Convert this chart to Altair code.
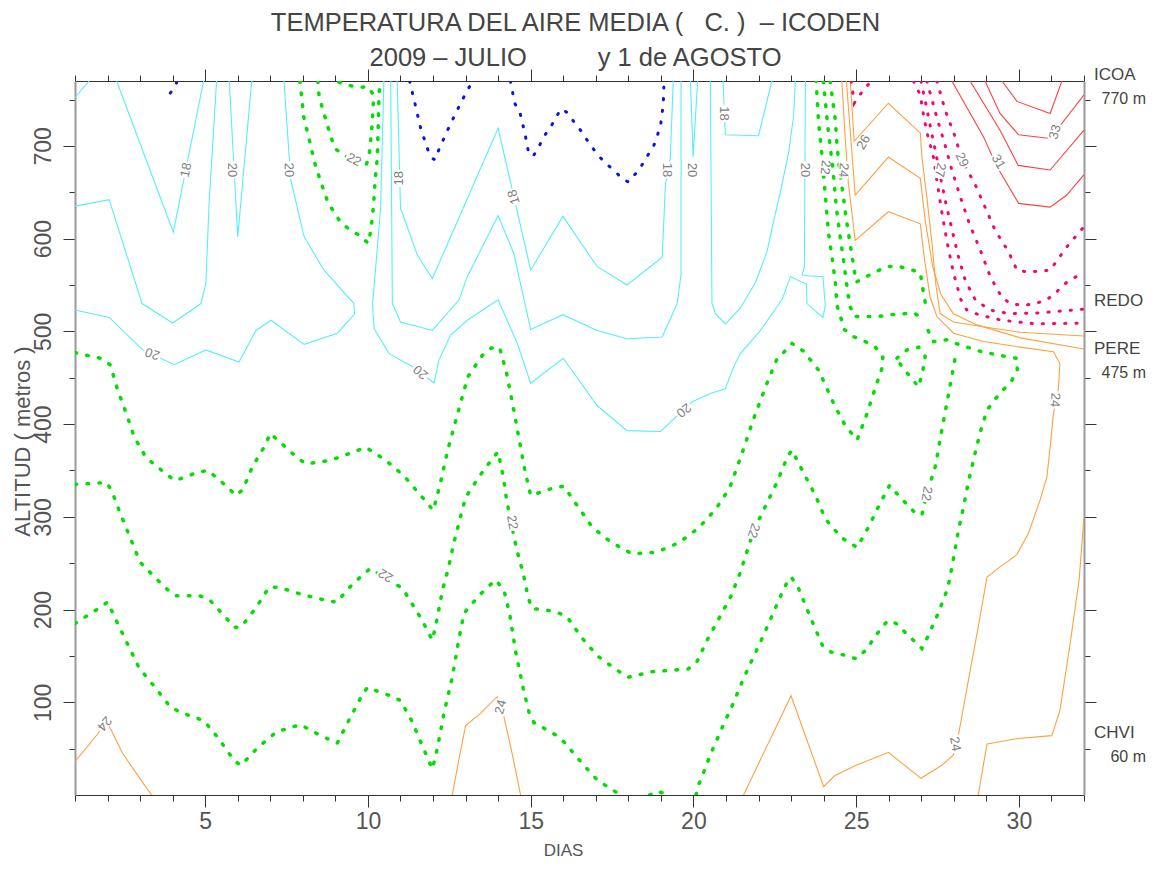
import altair as alt
import pandas as pd

FONT = "Liberation Sans"

# ---------------- titles ----------------
title_line1 = "TEMPERATURA DEL AIRE MEDIA (\u00a0\u00a0\u00a0C.\u00a0)\u00a0\u00a0\u2013\u00a0ICODEN"
title_line2 = "2009\u00a0\u2013\u00a0JULIO" + "\u00a0" * 10 + "y 1 de AGOSTO"

# ---------------- contour lines: (day, altitude m) ----------------
cyan19_corner = [(1.0, 752), (1.43, 770)]
cyan18_a = [(2.28, 770), (4.02, 607), (4.95, 770)]
cyan19_b = [(1.0, 635), (2.05, 642), (3.06, 530), (4.0, 509), (4.87, 530), (5.02, 552), (5.12, 638), (5.35, 770)]
cyan20_c = [(5.74, 770), (6.0, 602), (6.43, 770)]
cyan20_d = [(7.42, 770), (7.63, 663), (8.04, 602), (8.65, 566), (9.57, 530), (9.59, 519), (9.06, 498), (8.04, 486),
            (7.02, 512), (6.56, 501), (6.04, 467), (5.02, 480), (4.05, 464), (3.08, 480), (2.05, 515), (1.0, 523)]
cyan20_e = [(10.49, 770), (10.39, 633), (10.14, 528), (10.19, 503), (10.65, 476), (11.47, 460), (12.03, 444), (12.18, 469),
            (12.54, 496), (13.05, 512), (14.0, 534), (14.59, 487), (15.0, 444), (16.0, 471), (17.04, 420), (17.96, 393),
            (18.99, 392), (19.96, 424), (20.52, 433), (20.98, 438), (21.24, 462), (21.44, 476), (22.06, 501), (22.72, 534),
            (22.98, 559), (23.47, 551), (23.49, 530), (23.98, 515), (24.05, 528), (23.98, 559), (23.49, 560), (23.34, 561),
            (23.41, 570), (23.44, 770)]
cyan19_u = [(10.70, 770), (10.75, 530), (11.0, 510), (11.98, 501), (12.80, 534), (13.05, 559), (14.0, 625), (14.48, 584),
            (15.0, 502), (15.99, 518), (17.04, 501), (17.96, 492), (19.04, 494), (19.5, 530), (19.62, 561), (19.62, 770)]
cyan18_w = [(10.90, 770), (11.0, 633), (11.52, 582), (11.98, 557), (14.0, 719), (15.0, 566), (15.99, 624), (17.04, 570),
            (17.96, 550), (19.04, 580), (19.14, 658), (19.29, 687), (19.38, 770)]
cyan20_v = [(19.91, 770), (19.99, 688), (20.13, 770)]
cyan19_v = [(20.52, 770), (20.57, 530), (20.68, 519), (20.98, 508), (21.44, 525), (21.91, 553), (22.26, 586), (22.46, 618),
            (22.67, 650), (22.93, 694), (23.08, 733), (23.13, 770)]
cyan18_u = [(20.91, 770), (20.98, 712), (22.0, 711), (22.41, 770)]

blue17_a = [(3.93, 757), (4.12, 768)]
blue17_b = [(11.28, 770), (11.47, 742), (11.62, 719), (11.84, 696), (11.96, 687), (12.06, 685), (12.18, 696), (12.46, 718),
            (12.75, 739), (13.05, 760), (13.23, 770)]
blue17_c = [(14.38, 770), (14.51, 746), (14.67, 736), (14.82, 714), (14.94, 692), (15.08, 689), (15.25, 699), (15.40, 710),
            (15.61, 720), (15.76, 730), (15.94, 740), (16.12, 736), (16.33, 726), (16.53, 717), (16.74, 706), (16.92, 697),
            (17.12, 688), (17.35, 680), (17.61, 672), (17.83, 664), (18.01, 661), (18.22, 670), (18.43, 680), (18.60, 690),
            (18.78, 700), (18.90, 712), (18.99, 722), (19.04, 735), (19.07, 746), (19.09, 757), (19.09, 770)]

green21_top = [(7.91, 770), (8.03, 731), (8.40, 677), (8.77, 639), (9.17, 617), (9.47, 609), (9.76, 603), (10.01, 595),
               (10.09, 609), (10.17, 635), (10.22, 663), (10.29, 688), (10.32, 728), (10.34, 755), (10.37, 770)]
green22_top = [(8.46, 770), (8.50, 753), (8.65, 735), (8.86, 710), (8.99, 697), (9.27, 690), (9.63, 683), (9.93, 678),
               (10.03, 688), (10.11, 715), (10.16, 742), (10.17, 755), (10.0, 764), (9.73, 763), (9.32, 766), (9.01, 770)]
green21_long = [(1.0, 477), (1.78, 471), (2.08, 464), (2.31, 437), (2.57, 412), (2.82, 386), (3.18, 364), (3.77, 347),
                (4.07, 339), (4.77, 348), (5.09, 350), (5.69, 332), (5.94, 323), (6.15, 329), (6.45, 354), (6.84, 377),
                (7.0, 390), (7.22, 383), (7.82, 364), (8.10, 357), (8.86, 361), (9.57, 370), (9.93, 375), (10.55, 361),
                (11.11, 344), (11.62, 323), (12.01, 307), (12.21, 334), (12.46, 373), (12.77, 413), (13.07, 451),
                (13.51, 474), (13.79, 482), (14.04, 483), (14.26, 455), (14.48, 415), (14.69, 375), (14.82, 350),
                (15.0, 323), (15.68, 331), (16.02, 333), (16.45, 311), (16.89, 289), (17.45, 273), (18.12, 260),
                (18.88, 262), (19.55, 272), (20.16, 288), (20.68, 308), (21.11, 331), (21.49, 368), (21.85, 406),
                (22.26, 444), (22.55, 469), (23.03, 487), (23.37, 479), (23.85, 458), (24.31, 422), (24.67, 398),
                (25.03, 383), (25.30, 408), (25.56, 436), (25.79, 460), (25.82, 472), (25.59, 483), (25.28, 489),
                (24.94, 494), (24.64, 502), (24.41, 528), (24.36, 553), (24.26, 580), (24.15, 606), (24.05, 647),
                (23.95, 689), (23.84, 728), (23.77, 770)]
green22_long = [(1.0, 335), (1.98, 337), (2.14, 327), (2.41, 302), (2.70, 277), (3.0, 251), (3.25, 242), (3.79, 223),
                (4.08, 215), (4.82, 215), (5.12, 211), (5.64, 191), (5.89, 181), (6.10, 181), (6.56, 202), (6.96, 224),
                (7.27, 224), (7.99, 216), (8.70, 210), (9.04, 208), (9.54, 228), (10.06, 244), (11.06, 223), (11.64, 190),
                (11.98, 167), (12.13, 191), (12.29, 221), (12.46, 243), (12.62, 269), (12.80, 294), (13.0, 321),
                (13.41, 343), (13.87, 365), (14.0, 370), (14.16, 343), (14.26, 318), (14.56, 266), (14.77, 239),
                (14.93, 212), (15.05, 201), (15.40, 200), (15.82, 197), (16.12, 192), (16.56, 170), (17.05, 150),
                (17.68, 134), (18.0, 127), (18.73, 133), (19.49, 135), (19.84, 136), (20.11, 144), (20.45, 169),
                (20.81, 192), (21.16, 215), (21.44, 240), (21.85, 285), (22.26, 315), (22.59, 339), (22.89, 365),
                (23.03, 372), (23.39, 347), (23.75, 323), (24.05, 298), (24.53, 278), (25.03, 267), (25.41, 291),
                (25.74, 315), (26.03, 334), (26.30, 323), (26.82, 304), (27.02, 302), (27.17, 325), (27.43, 354),
                (27.63, 393), (27.84, 433), (28.04, 471)]
green22_island = [(26.25, 471), (26.56, 480), (26.92, 483), (27.12, 473), (27.05, 458), (26.92, 440), (26.71, 449),
                  (26.40, 462), (26.25, 471)]
green22_band = [(23.99, 770), (24.15, 714), (24.29, 674), (24.39, 634), (24.49, 606), (24.6, 580), (24.7, 553),
                (24.8, 528), (24.94, 516), (25.28, 516), (25.69, 516), (26.07, 518), (26.44, 519), (26.76, 520),
                (26.95, 516)]
green23_left = [(1.0, 185), (1.67, 200), (2.0, 208), (2.31, 185), (2.64, 161), (2.97, 137), (3.46, 116), (3.93, 95),
                (4.25, 89), (4.97, 80), (5.43, 60), (5.89, 37), (6.10, 32), (6.64, 52), (7.19, 68), (7.92, 76),
                (8.55, 64), (9.06, 56), (9.42, 81), (9.78, 105), (9.98, 116), (10.68, 107), (11.0, 102), (11.36, 79),
                (11.67, 53), (11.98, 28), (12.13, 50), (12.34, 89), (12.59, 127), (12.80, 169), (12.95, 196),
                (13.41, 215), (13.92, 232), (14.18, 221), (14.36, 194), (14.54, 154), (14.77, 115), (14.95, 89),
                (15.10, 78), (15.46, 71), (15.76, 65), (16.03, 57), (16.56, 35), (17.05, 16), (17.76, 0)]
green23_tiny = [(18.65, 0), (18.9, 4), (19.25, 0)]
green23_right = [(20.08, 0), (20.16, 11), (20.31, 24), (20.45, 37), (20.60, 50), (20.90, 74), (21.21, 98), (21.52, 124),
                 (21.83, 148), (22.15, 172), (22.46, 197), (22.77, 222), (22.92, 232), (23.01, 235), (23.24, 222),
                 (23.53, 197), (23.82, 173), (23.98, 160), (24.24, 154), (24.61, 151), (25.0, 147), (25.29, 156),
                 (25.73, 178), (25.97, 188), (26.23, 185), (26.49, 176), (27.02, 158), (27.19, 170), (27.52, 196),
                 (27.77, 219), (27.87, 232), (28.01, 259), (28.14, 285), (28.30, 311), (28.45, 338), (28.63, 365),
                 (28.81, 391), (29.02, 415), (29.27, 427), (29.52, 437), (29.78, 447), (29.95, 458), (29.93, 471),
                 (29.58, 473), (28.86, 478), (28.14, 486), (27.79, 491), (27.38, 489), (27.22, 500), (27.09, 511)]
green23_hump = [(24.2, 770), (24.36, 728), (24.41, 701), (24.49, 674), (24.6, 647), (24.7, 620), (24.82, 593),
                (24.94, 566), (25.0, 553), (25.25, 558), (25.59, 564), (25.94, 570), (26.30, 570), (26.66, 567),
                (26.97, 563), (27.02, 552), (27.09, 537), (27.15, 526)]

orange24_left = [(1.0, 36), (1.70, 66), (1.95, 80), (2.10, 71), (2.46, 45), (2.97, 19), (3.35, 0)]
orange24_mid = [(12.59, 0), (12.75, 30), (13.0, 75), (13.46, 88), (13.97, 106), (14.18, 84), (14.43, 45), (14.69, 0)]
orange24_long = [(24.56, 770), (24.66, 710), (24.76, 660), (24.97, 598), (25.99, 629), (26.97, 616), (27.09, 580),
                 (27.27, 537), (27.48, 516), (27.99, 498), (28.91, 489), (30.04, 483), (31.06, 478), (31.26, 465),
                 (31.21, 437), (31.06, 411), (30.96, 375), (30.86, 343), (30.65, 318), (30.29, 282), (29.93, 259),
                 (29.42, 246), (29.02, 235), (28.75, 181), (28.45, 124), (28.16, 68), (27.98, 43), (27.63, 32),
                 (26.99, 18), (25.99, 46), (25.0, 32), (24.35, 21), (24.0, 9), (23.0, 107), (21.54, 0)]
orange25_bottom = [(28.75, 0), (29.02, 55), (29.98, 61), (31.01, 64), (31.26, 91), (31.56, 160), (31.85, 232), (32.0, 300)]
orange25_top = [(24.7, 770), (24.87, 692), (24.97, 647), (25.99, 688), (26.97, 665), (27.12, 620), (27.35, 570),
                (27.6, 540), (27.99, 519), (28.71, 507), (30.04, 493), (32.0, 481)]
orange26_top = [(24.82, 770), (24.94, 705), (25.99, 746), (26.97, 714), (27.02, 688), (27.17, 645), (27.33, 595),
                (27.45, 550), (27.58, 519), (27.99, 510), (28.91, 505), (30.04, 499), (32.0, 495)]

pink27_small = [(24.85, 770), (24.94, 746), (25.07, 753), (25.28, 763), (25.48, 770)]
pink27 = [(26.76, 770), (26.97, 755), (27.05, 737), (27.17, 715), (27.38, 687), (27.50, 658), (27.63, 629), (27.80, 595),
          (27.99, 563), (28.22, 534), (28.40, 523), (28.76, 518), (29.47, 512), (30.55, 508), (32.0, 509)]
pink28 = [(26.99, 770), (27.15, 744), (27.30, 717), (27.46, 690), (27.61, 663), (27.77, 636), (27.95, 609), (28.13, 582),
          (28.35, 555), (28.66, 534), (29.11, 523), (29.73, 519), (30.65, 520), (32.0, 524)]
pink29 = [(27.17, 770), (27.50, 728), (27.73, 701), (27.94, 674), (28.2, 645), (28.48, 616), (28.81, 588), (29.12, 559),
          (29.47, 537), (29.73, 530), (30.14, 528), (30.5, 530), (30.86, 534), (31.17, 543), (31.47, 553), (32.0, 564)]
pink30 = [(27.48, 770), (27.73, 739), (28.04, 710), (28.25, 685), (28.66, 658), (28.96, 634), (29.27, 609), (29.68, 586),
          (29.94, 566), (30.29, 564), (30.96, 566), (31.47, 591), (32.0, 613)]

red31 = [(27.94, 770), (28.91, 710), (29.32, 678), (29.99, 638), (30.96, 634), (31.47, 647), (32.0, 669)]
red32 = [(28.5, 770), (29.42, 717), (29.98, 679), (30.96, 674), (32.0, 717)]
red33 = [(28.96, 770), (29.42, 735), (29.99, 712), (30.96, 708), (32.0, 755)]
red34 = [(29.48, 770), (29.94, 748), (30.96, 735), (31.32, 770)]

LINES = [
    ("cyan", cyan19_corner), ("cyan", cyan18_a), ("cyan", cyan19_b), ("cyan", cyan20_c), ("cyan", cyan20_d),
    ("cyan", cyan20_e), ("cyan", cyan19_u), ("cyan", cyan18_w), ("cyan", cyan20_v), ("cyan", cyan19_v),
    ("cyan", cyan18_u),
    ("blue", blue17_a), ("blue", blue17_b), ("blue", blue17_c),
    ("green", green21_top), ("green", green22_top), ("green", green21_long), ("green", green22_long),
    ("green", green22_island), ("green", green22_band), ("green", green23_left), ("green", green23_tiny),
    ("green", green23_right), ("green", green23_hump),
    ("orange", orange24_left), ("orange", orange24_mid), ("orange", orange24_long), ("orange", orange25_bottom),
    ("orange", orange25_top), ("orange", orange26_top),
    ("pink", pink27_small), ("pink", pink27), ("pink", pink28), ("pink", pink29), ("pink", pink30),
    ("red", red31), ("red", red32), ("red", red33), ("red", red34),
]

# contour labels: text, day, altitude, angle
label_text = ["18", "20", "20", "22", "18", "18", "18", "20", "18", "20", "22", "24", "26", "27", "29", "31", "33",
              "20", "20", "20", "22", "22", "22", "22", "24", "24", "24", "24"]
label_day = [4.41, 5.82, 7.57, 9.57, 10.94, 14.48, 19.19, 19.96, 20.93, 23.44, 24.05, 24.61, 25.23, 27.58, 28.25,
             29.37, 31.11, 3.38, 11.62, 19.70, 10.55, 14.43, 21.85, 27.17, 1.90, 14.08, 31.11, 28.04]
label_alt = [674, 674, 674, 685, 665, 645, 674, 674, 735, 674, 677, 674, 704, 674, 685, 683, 715, 476, 456, 415, 237,
             294, 285, 325, 77, 95, 426, 55]
label_ang = [282, 90, 87, 28, 270, 253, 90, 90, 90, 90, 95, 95, 300, 100, 65, 60, 285, 200, 220, 140, 210, 80, 110,
             100, 130, 285, 93, 80]

# stations on the right-hand axis
station_name = ["ICOA", "REDO", "PERE", "CHVI"]
station_alt = [770, 526, 475, 60]
station_height_text = ["770 m", "", "475 m", "60 m"]

# ---------------- tables ----------------
rows = []
for lid, (grp, pts) in enumerate(LINES):
    for k, (d, a) in enumerate(pts):
        rows.append({"line": lid, "grp": grp, "day": d, "alt": a, "k": k})
lines_df = pd.DataFrame(rows)
labels_df = pd.DataFrame({"txt": label_text, "day": label_day, "alt": label_alt, "ang": label_ang})
stations_df = pd.DataFrame({"name": station_name, "alt": station_alt, "htxt": station_height_text,
                            "day": [32] * len(station_name)})

xscale = alt.Scale(domain=[1, 32], nice=False, zero=False)
yscale = alt.Scale(domain=[0, 770], nice=False, zero=False)

tick5 = {"condition": {"test": "datum.value % 5 === 0", "value": 12}, "value": 6}
tick100 = {"condition": {"test": "datum.value % 100 === 0", "value": 12}, "value": 6}
days = list(range(1, 33))
alts = list(range(50, 800, 50))

ax_bottom = alt.Axis(orient="bottom", values=days, tickSize=tick5, tickColor="#333", domainColor="#333",
                     labelExpr="datum.value % 5 === 0 ? datum.label : ''", labelFont=FONT, labelFontSize=23,
                     labelColor="#555", labelPadding=3, labelOverlap=False, labelFlush=False, grid=False,
                     title="DIAS", titleFont=FONT, titleFontSize=17, titleFontWeight="normal", titleColor="#555",
                     titleX=488, titleY=55, titleBaseline="middle")
ax_left = alt.Axis(orient="left", values=alts, tickSize=tick100, tickColor="#333", domainColor="#999", domainWidth=2,
                   labelExpr="datum.value % 100 === 0 ? datum.label : ''", labelFont=FONT, labelFontSize=23,
                   labelColor="#555", labelAngle=270, labelAlign="center", labelBaseline="bottom", labelPadding=8,
                   labelOverlap=False, labelFlush=False, grid=False,
                   title="ALTITUD ( metros )", titleFont=FONT, titleFontSize=22, titleFontWeight="normal",
                   titleColor="#555", titleAngle=270, titleX=-53, titleY=360, titleBaseline="middle",
                   titleAlign="center")
ax_top = alt.Axis(orient="top", values=days, tickSize=tick5, tickColor="#333", domainColor="#333",
                  labels=False, grid=False, title="")
ax_right = alt.Axis(orient="right", values=alts, tickSize=tick100, tickColor="#333", domainColor="#999",
                    domainWidth=2, labels=False, grid=False, title="")

STYLE = {
    "cyan": dict(color="#55EEFF", strokeWidth=1.1),
    "blue": dict(color="#0A14E0", strokeWidth=3.0, strokeDash=[1.2, 10.5], strokeCap="round"),
    "green": dict(color="#00E000", strokeWidth=3.5, strokeDash=[1.6, 10.4], strokeCap="round"),
    "orange": dict(color="#FFA040", strokeWidth=1.1),
    "pink": dict(color="#F5086E", strokeWidth=3.0, strokeDash=[1.2, 10.0], strokeCap="round"),
    "red": dict(color="#FF4040", strokeWidth=1.1),
}

layers = []
for i, grp in enumerate(["cyan", "blue", "green", "orange", "pink", "red"]):
    sub = lines_df[lines_df["grp"] == grp]
    if i == 0:
        xenc = alt.X("day:Q", scale=xscale, axis=ax_bottom)
        yenc = alt.Y("alt:Q", scale=yscale, axis=ax_left)
    else:
        xenc = alt.X("day:Q", scale=xscale, axis=None)
        yenc = alt.Y("alt:Q", scale=yscale, axis=None)
    layers.append(
        alt.Chart(sub).mark_line(clip=True, **STYLE[grp]).encode(
            x=xenc, y=yenc, detail="line:N", order="k:Q"
        )
    )

backing = alt.Chart(labels_df).mark_point(
    shape="M -1 -0.62 L 1 -0.62 L 1 0.62 L -1 0.62 Z", filled=True, fill="white", opacity=1,
    strokeOpacity=0, size=300
).encode(
    x=alt.X("day:Q", scale=xscale, axis=None), y=alt.Y("alt:Q", scale=yscale, axis=None),
    angle=alt.Angle("ang:Q", scale=None)
)
label_layer = alt.Chart(labels_df).mark_text(font=FONT, fontSize=13, color="#808080", baseline="middle",
                                             align="center").encode(
    x=alt.X("day:Q", scale=xscale, axis=None), y=alt.Y("alt:Q", scale=yscale, axis=None),
    text="txt:N", angle=alt.Angle("ang:Q", scale=None)
)

station_names = alt.Chart(stations_df).mark_text(font=FONT, fontSize=17, color="#444", align="left",
                                                 baseline="middle", dx=10, dy=-6).encode(
    x=alt.X("day:Q", scale=xscale, axis=ax_top), y=alt.Y("alt:Q", scale=yscale, axis=ax_right), text="name:N"
)
station_heights = alt.Chart(stations_df).mark_text(font=FONT, fontSize=16, color="#444", align="right",
                                                   baseline="middle", dx=62, dy=18).encode(
    x=alt.X("day:Q", scale=xscale, axis=None), y=alt.Y("alt:Q", scale=yscale, axis=None), text="htxt:N"
)

chart = alt.layer(*layers, backing, label_layer, station_names, station_heights).resolve_axis(
    x="independent", y="independent"
).properties(
    width=1009, height=714,
    padding={"left": 67, "top": 73, "right": 64, "bottom": 66},
    autosize=alt.AutoSizeParams(type="none"),
    title=alt.TitleParams(text=[title_line1, title_line2], font=FONT, fontSize=25.5, fontWeight="normal",
                          color="#444", lineHeight=35, anchor="middle", baseline="bottom", offset=0, dy=30,
                          dx=-4),
).configure_view(stroke=None).configure(background="white")

chart.save("out.html", embed_options={"renderer": "svg", "actions": False})
